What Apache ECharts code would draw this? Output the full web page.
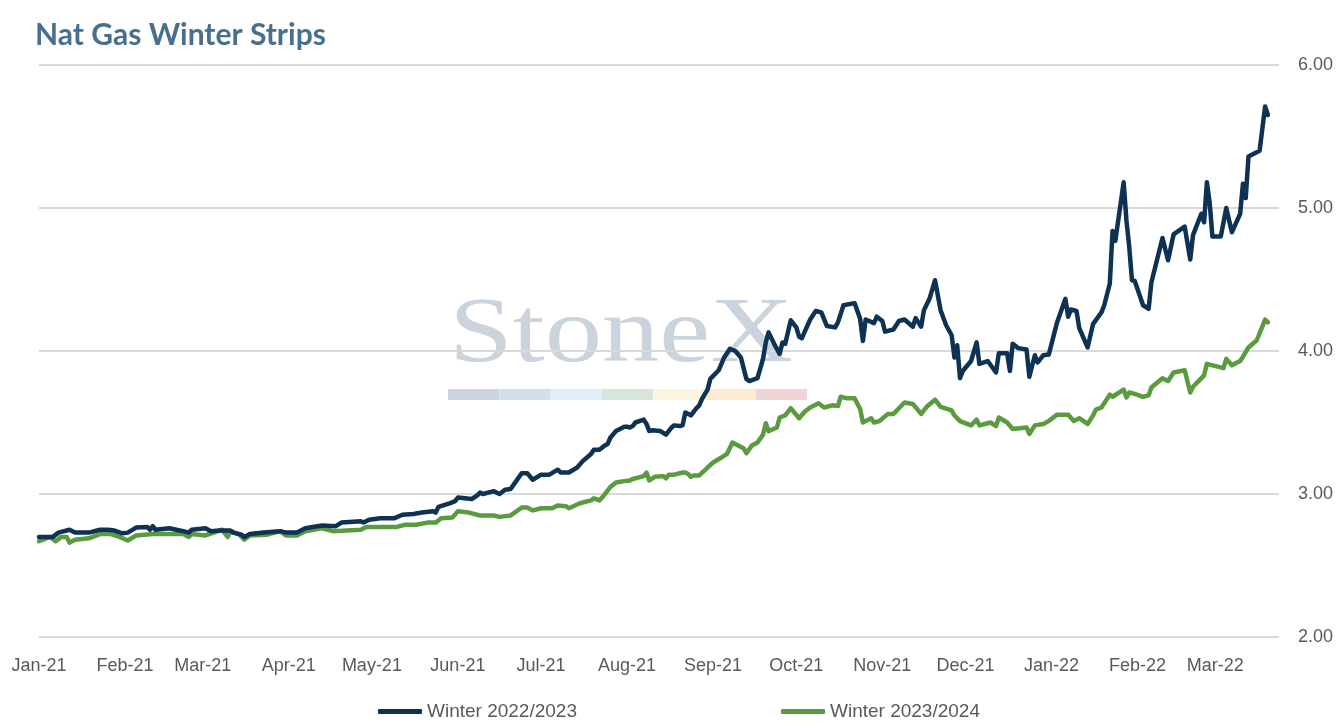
<!DOCTYPE html>
<html>
<head>
<meta charset="utf-8">
<title>Nat Gas Winter Strips</title>
<script src="https://cdn.jsdelivr.net/npm/echarts@6/dist/echarts.min.js"></script>
<style>
  html, body { margin: 0; padding: 0; background: #fff; }
  #chart { width: 1344px; height: 728px; }
</style>
</head>
<body>
<div id="chart"></div>
<script>
// series names
var seriesNames = ['Winter 2022/2023', 'Winter 2023/2024'];

// Winter 2022/2023 strip
var w2223Dates = [
  '2021-01-01','2021-01-06','2021-01-08','2021-01-12','2021-01-14','2021-01-19','2021-01-23','2021-01-26','2021-01-28','2021-01-31',
  '2021-02-02','2021-02-05','2021-02-09','2021-02-10','2021-02-11','2021-02-12','2021-02-17','2021-02-22','2021-02-24','2021-02-25',
  '2021-03-02','2021-03-04','2021-03-07','2021-03-11','2021-03-12','2021-03-15','2021-03-16','2021-03-18','2021-03-23','2021-03-29','2021-03-31',
  '2021-04-04','2021-04-07','2021-04-13','2021-04-18','2021-04-20','2021-04-27','2021-04-28','2021-04-30',
  '2021-05-04','2021-05-09','2021-05-12','2021-05-16','2021-05-19','2021-05-23','2021-05-24','2021-05-25','2021-05-29','2021-05-31',
  '2021-06-01','2021-06-06','2021-06-08','2021-06-09','2021-06-10','2021-06-14','2021-06-16','2021-06-18','2021-06-20','2021-06-22','2021-06-24','2021-06-26','2021-06-28',
  '2021-07-01','2021-07-04','2021-07-07','2021-07-08','2021-07-11','2021-07-14','2021-07-16','2021-07-19','2021-07-20','2021-07-22','2021-07-24','2021-07-25','2021-07-26','2021-07-28','2021-07-31',
  '2021-08-01','2021-08-02','2021-08-03','2021-08-04','2021-08-07','2021-08-08','2021-08-09','2021-08-10','2021-08-13','2021-08-15','2021-08-17','2021-08-18','2021-08-20','2021-08-21','2021-08-22','2021-08-24','2021-08-26','2021-08-27','2021-08-28','2021-08-30','2021-08-31',
  '2021-09-03','2021-09-05','2021-09-07','2021-09-09','2021-09-11','2021-09-13','2021-09-14','2021-09-17','2021-09-19','2021-09-20','2021-09-21','2021-09-23','2021-09-25','2021-09-26','2021-09-27','2021-09-29',
  '2021-10-01','2021-10-02','2021-10-03','2021-10-06','2021-10-08','2021-10-10','2021-10-12','2021-10-15','2021-10-16','2021-10-18','2021-10-22','2021-10-24','2021-10-25','2021-10-26','2021-10-29','2021-10-30',
  '2021-11-01','2021-11-02','2021-11-05','2021-11-07','2021-11-09','2021-11-12','2021-11-13','2021-11-15','2021-11-16','2021-11-18','2021-11-20','2021-11-22','2021-11-24','2021-11-26','2021-11-27','2021-11-28','2021-11-29','2021-11-30',
  '2021-12-03','2021-12-05','2021-12-06','2021-12-09','2021-12-12','2021-12-13','2021-12-16','2021-12-17','2021-12-18','2021-12-20','2021-12-23','2021-12-24','2021-12-26','2021-12-27','2021-12-29','2021-12-31',
  '2022-01-03','2022-01-06','2022-01-07','2022-01-08','2022-01-10','2022-01-11','2022-01-14','2022-01-16','2022-01-19','2022-01-20','2022-01-22','2022-01-23','2022-01-24','2022-01-27','2022-01-28','2022-01-29','2022-01-30','2022-01-31',
  '2022-02-03','2022-02-05','2022-02-06','2022-02-10','2022-02-12','2022-02-14','2022-02-18','2022-02-20','2022-02-21','2022-02-24','2022-02-25','2022-02-26','2022-02-27','2022-02-28',
  '2022-03-03','2022-03-05','2022-03-07','2022-03-10','2022-03-11','2022-03-12','2022-03-13','2022-03-17','2022-03-19','2022-03-20'
];
var w2223Values = [
  2.70,2.70,2.73,2.75,2.73,2.73,2.75,2.75,2.745,2.725,
  2.73,2.765,2.77,2.75,2.775,2.75,2.76,2.74,2.73,2.75,
  2.76,2.74,2.745,2.745,2.73,2.715,2.70,2.72,2.73,2.74,2.73,
  2.73,2.76,2.78,2.775,2.80,2.81,2.80,2.82,
  2.83,2.83,2.855,2.86,2.87,2.88,2.87,2.91,2.935,2.95,
  2.975,2.965,2.99,3.01,3.00,3.02,3.00,3.03,3.035,3.09,3.145,3.145,3.10,
  3.135,3.135,3.17,3.15,3.15,3.185,3.23,3.28,3.31,3.31,3.34,3.35,3.395,3.44,3.47,
  3.47,3.465,3.475,3.50,3.52,3.49,3.44,3.445,3.44,3.415,3.465,3.48,3.475,3.48,3.57,3.55,3.60,3.62,3.665,3.73,3.805,
  3.865,3.955,4.015,4.00,3.955,3.805,3.79,3.81,3.945,4.06,4.13,4.05,3.98,4.06,4.05,4.215,
  4.165,4.10,4.09,4.22,4.28,4.27,4.175,4.165,4.20,4.32,4.335,4.225,4.07,4.22,4.195,4.24,
  4.21,4.135,4.15,4.21,4.22,4.17,4.23,4.17,4.285,4.365,4.495,4.285,4.18,4.11,3.955,4.04,3.81,3.86,
  3.93,4.06,3.91,3.93,3.85,3.985,3.985,3.86,4.05,4.02,4.01,3.82,3.97,3.92,3.97,3.975,
  4.20,4.365,4.24,4.29,4.28,4.16,4.025,4.19,4.27,4.32,4.47,4.84,4.77,5.18,4.915,4.73,4.495,4.49,
  4.32,4.295,4.48,4.79,4.635,4.815,4.87,4.64,4.81,4.96,4.90,5.18,5.04,4.80,
  4.80,5.00,4.83,4.96,5.17,5.07,5.36,5.40,5.71,5.65
];

// Winter 2023/2024 strip
var w2324Dates = [
  '2021-01-01','2021-01-05','2021-01-07','2021-01-09','2021-01-11','2021-01-12','2021-01-14','2021-01-19','2021-01-23','2021-01-27','2021-01-30',
  '2021-02-02','2021-02-05','2021-02-11','2021-02-22','2021-02-24','2021-02-25',
  '2021-03-02','2021-03-08','2021-03-10','2021-03-11','2021-03-14','2021-03-16','2021-03-18','2021-03-24','2021-03-29','2021-03-31',
  '2021-04-04','2021-04-07','2021-04-13','2021-04-17','2021-04-27','2021-04-29',
  '2021-05-04','2021-05-10','2021-05-13','2021-05-17','2021-05-21','2021-05-24','2021-05-26','2021-05-30',
  '2021-06-01','2021-06-05','2021-06-09','2021-06-14','2021-06-16','2021-06-20','2021-06-24','2021-06-26','2021-06-28',
  '2021-07-01','2021-07-05','2021-07-07','2021-07-10','2021-07-11','2021-07-15','2021-07-19','2021-07-20','2021-07-22','2021-07-23','2021-07-26','2021-07-28','2021-07-31',
  '2021-08-02','2021-08-03','2021-08-07','2021-08-08','2021-08-09','2021-08-11','2021-08-14','2021-08-15','2021-08-16','2021-08-18','2021-08-21','2021-08-22','2021-08-23','2021-08-24','2021-08-25','2021-08-27','2021-08-30',
  '2021-09-01','2021-09-04','2021-09-06','2021-09-08','2021-09-10','2021-09-12','2021-09-13','2021-09-15','2021-09-17','2021-09-19','2021-09-20','2021-09-21','2021-09-24','2021-09-25','2021-09-27','2021-09-29',
  '2021-10-02','2021-10-04','2021-10-06','2021-10-09','2021-10-11','2021-10-14','2021-10-16','2021-10-17','2021-10-19','2021-10-22','2021-10-24','2021-10-25','2021-10-28','2021-10-29','2021-10-31',
  '2021-11-03','2021-11-05','2021-11-07','2021-11-09','2021-11-12','2021-11-15','2021-11-17','2021-11-20','2021-11-22','2021-11-26','2021-11-27','2021-11-29',
  '2021-12-03','2021-12-05','2021-12-06','2021-12-10','2021-12-12','2021-12-13','2021-12-16','2021-12-18','2021-12-23','2021-12-24','2021-12-26','2021-12-29','2021-12-31',
  '2022-01-03','2022-01-07','2022-01-09','2022-01-11','2022-01-14','2022-01-16','2022-01-17','2022-01-19','2022-01-22','2022-01-23','2022-01-27','2022-01-28','2022-01-29','2022-01-31',
  '2022-02-03','2022-02-05','2022-02-06','2022-02-10','2022-02-12','2022-02-14','2022-02-18','2022-02-20','2022-02-21','2022-02-25','2022-02-26',
  '2022-03-04','2022-03-05','2022-03-07','2022-03-10','2022-03-11','2022-03-13','2022-03-16','2022-03-19','2022-03-20'
];
var w2324Values = [
  2.67,2.70,2.67,2.70,2.70,2.66,2.68,2.69,2.72,2.72,2.70,
  2.675,2.71,2.72,2.72,2.70,2.72,
  2.71,2.75,2.70,2.74,2.72,2.68,2.71,2.715,2.74,2.71,
  2.71,2.74,2.76,2.74,2.75,2.77,
  2.77,2.77,2.785,2.785,2.80,2.80,2.83,2.835,
  2.88,2.87,2.85,2.85,2.84,2.85,2.905,2.905,2.885,
  2.90,2.90,2.92,2.915,2.90,2.935,2.955,2.97,2.955,2.975,3.05,3.08,3.09,
  3.095,3.105,3.125,3.15,3.095,3.12,3.125,3.11,3.135,3.135,3.15,3.15,3.14,3.12,3.13,3.13,3.185,
  3.22,3.255,3.28,3.36,3.34,3.32,3.285,3.34,3.36,3.415,3.495,3.44,3.465,3.535,3.55,3.60,
  3.53,3.575,3.605,3.635,3.605,3.62,3.615,3.68,3.67,3.67,3.595,3.50,3.53,3.50,3.51,
  3.56,3.56,3.60,3.64,3.63,3.56,3.61,3.66,3.61,3.585,3.55,3.51,
  3.48,3.52,3.48,3.50,3.475,3.535,3.50,3.455,3.465,3.42,3.48,3.49,3.51,
  3.555,3.555,3.51,3.53,3.49,3.55,3.59,3.605,3.695,3.68,3.73,3.675,3.71,3.70,
  3.68,3.69,3.745,3.81,3.79,3.85,3.865,3.71,3.75,3.83,3.91,
  3.88,3.945,3.90,3.93,3.96,4.025,4.075,4.22,4.20
];

// axis settings
var xMin = '2021-01-01';
var xMax = '2022-03-24';
var yTicks = [2, 3, 4, 5, 6];
var monthNames = ['Jan','Feb','Mar','Apr','May','Jun','Jul','Aug','Sep','Oct','Nov','Dec'];

function pairs(dates, values) {
  return dates.map(function (d, i) { return [d, values[i]]; });
}

var labelFont = "'Liberation Sans', Arial, sans-serif";
var labelColor = '#595959';

// StoneX watermark (decorative, sits behind the lines)
var stripeColors = ['#cdd6df', '#d5dfea', '#e2eef5', '#d6e6dd', '#faf6dd', '#fbebd3', '#f1d4d8'];
var watermark = [{
  type: 'text', left: 449, top: 289, z: -5,
  scaleX: 1.22,
  style: { text: 'StoneX', font: "94px 'Liberation Serif', 'Times New Roman', serif", fill: '#cbd4dd' }
}];
stripeColors.forEach(function (c, i) {
  watermark.push({
    type: 'rect', z: -5,
    shape: { x: 448 + i * 51.3, y: 389, width: 51.3, height: 11 },
    style: { fill: c }
  });
});

var chart = echarts.init(document.getElementById('chart'), null, { renderer: 'canvas' });
chart.setOption({
  backgroundColor: '#ffffff',
  animation: false,
  title: {
    text: 'Nat Gas Winter Strips',
    left: 30, top: 15,
    textStyle: { fontFamily: 'Lato, sans-serif', fontWeight: 'bold', fontSize: 30, color: '#46708e' }
  },
  graphic: watermark,
  legend: {
    left: 373, top: 697,
    itemWidth: 44, itemHeight: 5, itemGap: 204,
    icon: 'roundRect',
    data: seriesNames,
    textStyle: { fontFamily: labelFont, fontSize: 19, color: labelColor }
  },
  grid: { left: 39, right: 65, top: 65, bottom: 91, outerBoundsMode: 'none', containLabel: false },
  xAxis: {
    type: 'time',
    min: xMin, max: xMax,
    splitNumber: 15,
    minInterval: 28 * 86400000,
    maxInterval: 31 * 86400000,
    axisLine: { show: false },
    axisTick: { show: false },
    splitLine: { show: false },
    axisLabel: {
      margin: 20,
      fontFamily: labelFont, fontSize: 18, color: labelColor,
      showMinLabel: true, showMaxLabel: false,
      formatter: function (v) {
        var d = new Date(v);
        return monthNames[d.getMonth()] + '-' + String(d.getFullYear()).slice(2);
      }
    }
  },
  yAxis: {
    type: 'value',
    position: 'right',
    min: yTicks[0], max: yTicks[yTicks.length - 1], interval: 1,
    axisLine: { show: false },
    axisTick: { show: false },
    splitLine: { lineStyle: { color: '#d9d9d9', width: 2 } },
    axisLabel: {
      margin: 19,
      fontFamily: labelFont, fontSize: 18, color: labelColor,
      formatter: function (v) { return v.toFixed(2); }
    }
  },
  series: [{
    name: seriesNames[0],
    type: 'line',
    data: pairs(w2223Dates, w2223Values),
    showSymbol: false,
    color: '#0e3254',
    lineStyle: { width: 4.5, color: '#0e3254', cap: 'round', join: 'round' },
    z: 3
  }, {
    name: seriesNames[1],
    type: 'line',
    data: pairs(w2324Dates, w2324Values),
    showSymbol: false,
    color: '#5b9b40',
    lineStyle: { width: 4.5, color: '#5b9b40', cap: 'round', join: 'round' },
    z: 2
  }]
});
</script>
</body>
</html>
